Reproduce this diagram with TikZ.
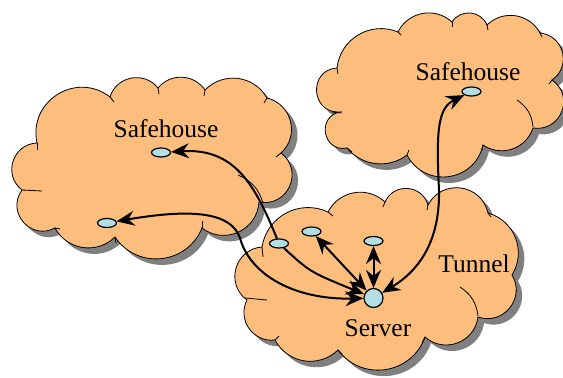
\documentclass[tikz,border=0pt]{standalone}
\usepackage{fontspec}
\setmainfont{Liberation Serif}
\usetikzlibrary{arrows.meta,shapes.geometric}
\definecolor{cloudfill}{RGB}{253,190,125}
\definecolor{nodefill}{RGB}{178,222,228}
\definecolor{shadowgray}{RGB}{128,128,128}
\tikzset{
  r20/.style={bend left=44, looseness=0.99},
  r25/.style={bend left=53, looseness=1.07},
  r30/.style={bend left=62, looseness=1.16},
  r35/.style={bend left=70, looseness=1.27},
  r40/.style={bend left=77, looseness=1.40},
  r50/.style={bend left=90, looseness=1.70},
  r60/.style={bend left=100, looseness=2.08},
  cloudshadow/.style={fill=shadowgray, shift={(6,6)}},
  cloudbody/.style={fill=cloudfill, draw=black, line width=0.8pt},
  crease/.style={draw=black, line width=0.8pt},
  host/.style={ellipse, draw=black, line width=1.2pt, fill=nodefill, minimum width=19pt, minimum height=9pt, inner sep=0pt},
  serverbox/.style={circle, draw=black, line width=1.2pt, fill=nodefill, minimum size=19pt, inner sep=0pt},
  link/.style={draw=black, line width=2pt},
  lbl/.style={font=\fontsize{25.5}{30}\selectfont, anchor=base, inner sep=0pt},
  >={Stealth[length=18pt,width=15pt,inset=6pt]}
}
\newcommand\cloudLeft[1]{\path[#1] (37,143) to[r35] (110,97) to[r30] (158,88) to[r25] (205,90) to[r25] (267,98) to[r30] (281,153) to[r40] (259,202) to[r30] (202,228) to[r30] (115,237) to[r25] (55,228) to[r40] (22,190) to[r35] (37,143) -- cycle;}
\newcommand\cloudTop[1]{\path[#1] (337,68) to[r25] (398,32) to[r25] (452,22) to[r30] (487,25) to[r25] (540,33) to[r35] (552,80) to[r40] (533,128) to[r25] (483,145) to[r35] (407,155) to[r20] (347,148) to[r50] (340,112) to[r50] (337,68) -- cycle;}
\newcommand\cloudLow[1]{\path[#1] (262,247) to[r25] (328,212) to[r25] (385,202) to[r35] (428,205) to[r35] (488,213) to[r25] (512,275) to[r35] (478,317) to[r30] (425,337) to[r30] (338,350) to[r25] (275,340) to[r30] (247,300) to[r35] (262,247) -- cycle;}
\begin{document}
\begin{tikzpicture}[x=1pt,y=-1pt]
\useasboundingbox (0,0) rectangle (563,378);
\fill[white] (0,0) rectangle (563,378);
\clip (0,0) rectangle (563,378);
% left cloud
\cloudLeft{cloudshadow}
\cloudLeft{cloudbody}
\draw[crease] (37,143) -- (37,150);
\draw[crease] (110,97) -- (114,102);
\draw[crease] (158,88) -- (159,94);
\draw[crease] (205,90) -- (204,96);
\draw[crease] (267,98) -- (264,103);
\draw[crease] (281,153) -- (276,157);
\draw[crease] (238,175) to[bend left=25] (263,203);
\draw[crease] (202,228) -- (202,221);
\draw[crease] (115,237) -- (116,243);
\draw[crease] (55,228) -- (60,229);
\draw[crease] (22,190) -- (42,191);
% top right cloud
\cloudTop{cloudshadow}
\cloudTop{cloudbody}
\draw[crease] (337,68) -- (338,74);
\draw[crease] (398,32) -- (401,35);
\draw[crease] (452,22) -- (452,27);
\draw[crease] (487,25) -- (488,30);
\draw[crease] (540,33) -- (542,37);
\draw[crease] (552,80) -- (549,84);
\draw[crease] (517,100) to[bend left=25] (533,127);
\draw[crease] (483,145) -- (482,150);
\draw[crease] (407,155) -- (409,150);
\draw[crease] (347,148) -- (352,152);
\draw[crease] (332,112) -- (342,113);
% tunnel cloud
\cloudLow{cloudshadow}
\cloudLow{cloudbody}
\draw[crease] (262,247) -- (263,257);
\draw[crease] (328,212) -- (333,216);
\draw[crease] (385,202) -- (383,207);
\draw[crease] (428,205) -- (427,210);
\draw[crease] (488,213) -- (491,217);
\draw[crease] (460,287) to[bend left=25] (478,316);
\draw[crease] (425,337) -- (422,343);
\draw[crease] (338,350) -- (342,354);
\draw[crease] (275,340) -- (279,336);
\draw[crease] (245,298) -- (267,300);
% labels
\node[lbl] (lsafe1) at (166,137) {Safehouse};
\node[lbl] (lsafe2) at (468,80) {Safehouse};
\node[lbl] (ltunnel) at (474,272) {Tunnel};
\node[lbl] (lserver) at (378,336) {Server};
% hosts
\node[host] (s1) at (161,152.5) {};
\node[host] (s2) at (107,223) {};
\node[host] (s3) at (471.5,91.5) {};
\node[host] (t1) at (279,243.5) {};
\node[host] (t2) at (311.5,231.5) {};
\node[host] (t3) at (373.5,241) {};
\node[serverbox] (srv) at (373.5,298) {};
\coordinate (m2) at (240,238);
\coordinate (m5) at (439,190);
% connectors
\draw[link,->] (t1) .. controls (255,185) and (235,148) .. (s1);
\draw[link,->] (t1) .. controls (310,272) .. (srv);
\draw[link,<->] (s2) .. controls (200,207) and (232,215) .. (m2) .. controls (250,275) and (295,300) .. (srv);
\draw[link,<->] (t2) -- (srv);
\draw[link,<->] (t3) -- (srv);
\draw[link,<->] (srv) .. controls (420,270) and (440,240) .. (m5) .. controls (436,130) and (438,108) .. (s3);
\end{tikzpicture}
\end{document}
